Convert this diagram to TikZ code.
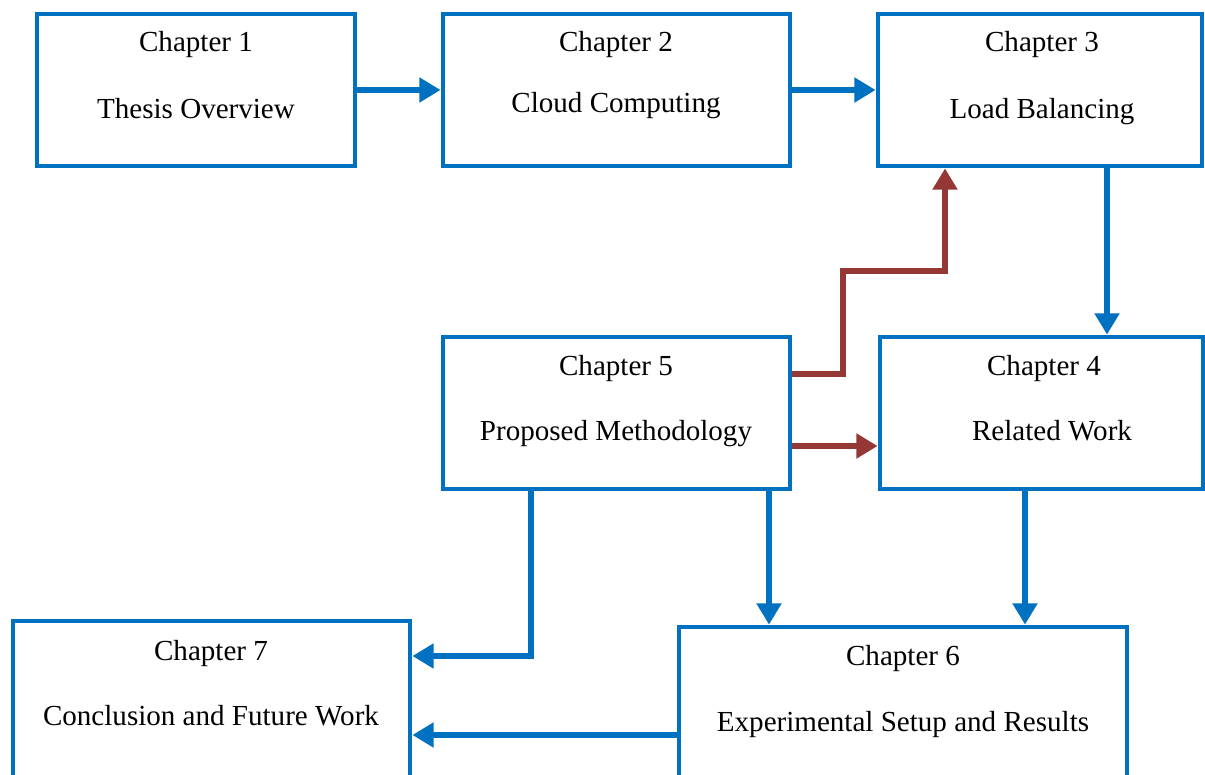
\documentclass[tikz,border=0pt]{standalone}
\usepackage{fontspec}
\setmainfont{Liberation Serif}
\usetikzlibrary{arrows.meta,calc}
\definecolor{boxblue}{HTML}{0070C0}
\definecolor{linkred}{HTML}{953735}
\tikzset{
  chapbox/.style 2 args={draw=boxblue, line width=3.6pt, fill=white,
    minimum width=#1*0.75pt, minimum height=#2*0.75pt, inner sep=0pt},
  caption/.style={font=\fontsize{21.8}{26}\selectfont, inner sep=0pt, anchor=base},
  bluearrow/.style={draw=boxblue, line width=5.2pt,
    -{Triangle[length=16pt,width=18pt]}},
  redarrow/.style={draw=linkred, line width=5.2pt,
    -{Triangle[length=16pt,width=18pt]}},
}
\begin{document}
\begin{tikzpicture}[x=0.75pt,y=-0.75pt]
\useasboundingbox (0,0) rectangle (1205,774);
\clip (0,0) rectangle (1205,774);

% chapter boxes
\node[chapbox={318}{152}] (c1) at (196,90) {};
\node[chapbox={347}{152}] (c2) at (616.5,90) {};
\node[chapbox={324}{152}] (c3) at (1040,90) {};
\node[chapbox={347}{152}] (c5) at (616.5,413) {};
\node[chapbox={323}{152}] (c4) at (1041.5,413) {};
\node[chapbox={397}{190}] (c7) at (211.5,716) {};
\node[chapbox={448}{185}] (c6) at (903,719.5) {};

% captions
\node[caption] (t1a) at (196,52) {Chapter 1};
\node[caption] (t1b) at (196,118) {Thesis Overview};
\node[caption] (t2a) at (616,52) {Chapter 2};
\node[caption] (t2b) at (616,112) {Cloud Computing};
\node[caption] (t3a) at (1042,52) {Chapter 3};
\node[caption] (t3b) at (1042,118) {Load Balancing};
\node[caption] (t5a) at (616,375) {Chapter 5};
\node[caption] (t5b) at (616,440) {Proposed Methodology};
\node[caption] (t4a) at (1044,375) {Chapter 4};
\node[caption] (t4b) at (1052,440) {Related Work};
\node[caption] (t7a) at (211,660) {Chapter 7};
\node[caption] (t7b) at (211,725) {Conclusion and Future Work};
\node[caption] (t6a) at (903,665) {Chapter 6};
\node[caption] (t6b) at (903,731) {Experimental Setup and Results};

% bend points of the connectors
\coordinate (r1) at (843,374);
\coordinate (r2) at (843,271);
\coordinate (r3) at (945,271);
\coordinate (b7) at (531,656);
\coordinate (x3) at (1107,0);
\coordinate (x56) at (769,0);
\coordinate (x46) at (1025,0);
\coordinate (y67) at (0,735);
\coordinate (y54) at (0,446);

% blue connectors
\draw[bluearrow] (c1.east) -- (c2.west);
\draw[bluearrow] (c2.east) -- (c3.west);
\draw[bluearrow] (c3.south -| x3) -- (c4.north -| x3);
\draw[bluearrow] (c5.south -| b7) -- (b7) -- (c7.east |- b7);
\draw[bluearrow] (c5.south -| x56) -- (c6.north -| x56);
\draw[bluearrow] (c4.south -| x46) -- (c6.north -| x46);
\draw[bluearrow] (c6.west |- y67) -- (c7.east |- y67);

% red connectors
\draw[redarrow] (c5.east |- r1) -- (r1) -- (r2) -- (r3) -- (c3.south -| r3);
\draw[redarrow] (c5.east |- y54) -- (c4.west |- y54);
\end{tikzpicture}
\end{document}
